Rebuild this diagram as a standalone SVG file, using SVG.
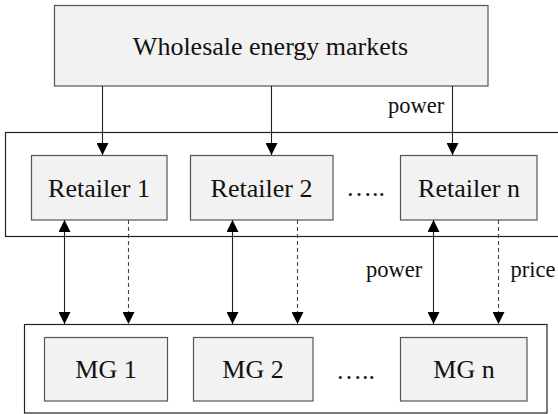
<svg xmlns="http://www.w3.org/2000/svg" width="558" height="414" viewBox="0 0 558 414">
<style>
.box{fill:#f2f2f2;stroke:#555;stroke-width:1.2}
.cont{fill:none;stroke:#222;stroke-width:1.2}
.t{font-size:26px;fill:#111;text-anchor:middle}
.lbl{font-size:22.5px;fill:#111}
.ln{stroke:#222;stroke-width:1.1;fill:none}
.dash{stroke:#444;stroke-width:1.1;fill:none;stroke-dasharray:4,3}
</style>
<defs>
<marker id="ah" markerUnits="userSpaceOnUse" markerWidth="12" markerHeight="12" viewBox="0 0 12 12" refX="12" refY="6" orient="auto">
<path d="M0,0 L12,6 L0,12 Z" fill="#000"/>
</marker>
<marker id="as" markerUnits="userSpaceOnUse" markerWidth="12" markerHeight="12" viewBox="0 0 12 12" refX="12" refY="6" orient="auto-start-reverse">
<path d="M0,0 L12,6 L0,12 Z" fill="#000"/>
</marker>
</defs>
<g font-family="'Liberation Serif', 'DejaVu Serif', serif">
<g id="retailer-layer">
<rect class="cont" x="5.5" y="132.5" width="560" height="104"/>
</g>
<g id="mg-layer">
<rect class="cont" x="24.5" y="324.5" width="522.5" height="88.5"/>
</g>
<g id="wholesale">
<rect class="box" x="54.5" y="5.5" width="433.5" height="80.5"/>
<text class="t" x="270.5" y="54.5" font-size="27.2">Wholesale energy markets</text>
</g>
<g id="retailer1">
<rect class="box" x="31.5" y="155.5" width="135.5" height="64.5"/>
<text class="t" x="99" y="197" font-size="26.6">Retailer 1</text>
</g>
<g id="retailer2">
<rect class="box" x="190.5" y="155.5" width="142.5" height="64.5"/>
<text class="t" x="261.5" y="197" font-size="26.6">Retailer 2</text>
</g>
<g id="retailer-dots">
<text class="t" x="365.5" y="196">…..</text>
</g>
<g id="retailern">
<rect class="box" x="400.5" y="155.5" width="136.5" height="64.5"/>
<text class="t" x="469" y="197" font-size="26.6">Retailer n</text>
</g>
<g id="mg1">
<rect class="box" x="44.5" y="337.5" width="123" height="63.5"/>
<text class="t" x="106" y="378">MG 1</text>
</g>
<g id="mg2">
<rect class="box" x="193.5" y="337.5" width="119.5" height="63.5"/>
<text class="t" x="253" y="378">MG 2</text>
</g>
<g id="mg-dots">
<text class="t" x="355.5" y="379">…..</text>
</g>
<g id="mgn">
<rect class="box" x="400.5" y="337.5" width="126.5" height="63.5"/>
<text class="t" x="464" y="378">MG n</text>
</g>
<g id="connectors">
<line class="ln" x1="102.5" y1="86" x2="102.5" y2="155" marker-end="url(#ah)"/>
<line class="ln" x1="271.5" y1="86" x2="271.5" y2="155" marker-end="url(#ah)"/>
<line class="ln" x1="452.5" y1="86" x2="452.5" y2="155" marker-end="url(#ah)"/>
<line class="ln" x1="64.5" y1="220" x2="64.5" y2="324" marker-start="url(#as)" marker-end="url(#ah)"/>
<line class="ln" x1="232.5" y1="220" x2="232.5" y2="324" marker-start="url(#as)" marker-end="url(#ah)"/>
<line class="ln" x1="433.5" y1="220" x2="433.5" y2="324" marker-start="url(#as)" marker-end="url(#ah)"/>
<line class="dash" x1="128.5" y1="220" x2="128.5" y2="324" marker-end="url(#ah)"/>
<line class="dash" x1="297.5" y1="220" x2="297.5" y2="324" marker-end="url(#ah)"/>
<line class="dash" x1="498.5" y1="220" x2="498.5" y2="324" marker-end="url(#ah)"/>
<text class="lbl" x="388" y="113">power</text>
<text class="lbl" x="366" y="277">power</text>
<text class="lbl" x="510.5" y="277">price</text>
</g>
</g>
</svg>
